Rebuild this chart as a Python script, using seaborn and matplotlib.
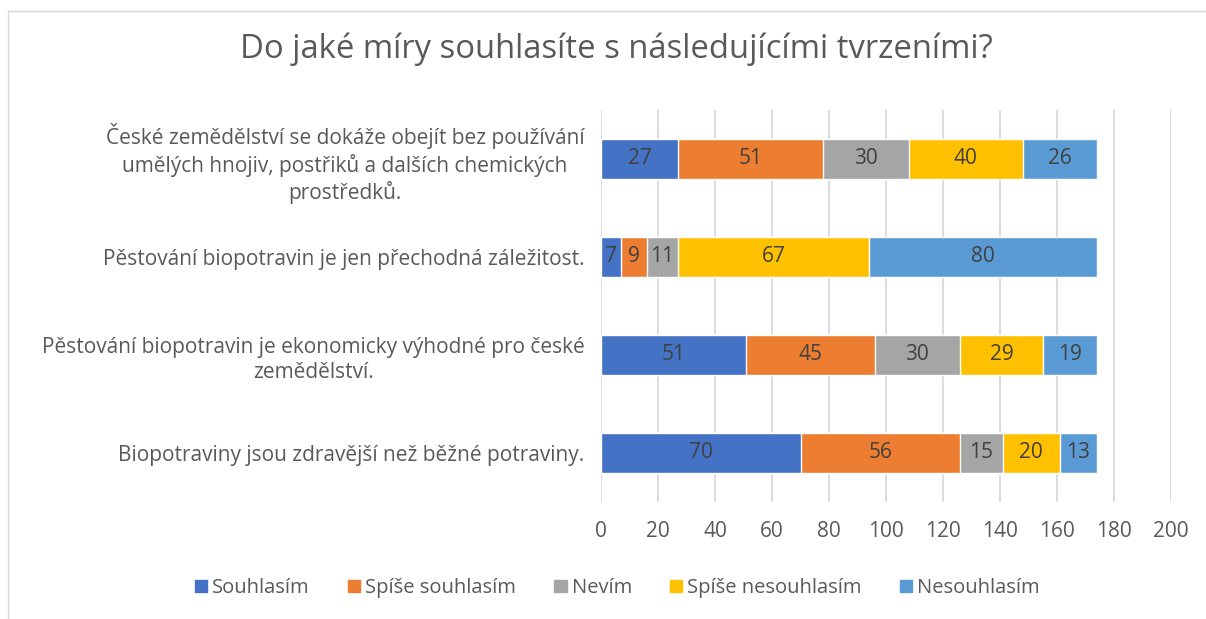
import numpy as np
import pandas as pd
import matplotlib.pyplot as plt
import seaborn as sns

# Data
statements = [
    "České zemědělství se dokáže obejít bez používání\numělých hnojiv, postřiků a dalších chemických\nprostředků.",
    "Pěstování biopotravin je jen přechodná záležitost.",
    "Pěstování biopotravin je ekonomicky výhodné pro české\nzemědělství.",
    "Biopotraviny jsou zdravější než běžné potraviny.",
]
series = ["Souhlasím", "Spíše souhlasím", "Nevím", "Spíše nesouhlasím", "Nesouhlasím"]
souhlasim = [27, 7, 51, 70]
spise_souhlasim = [51, 9, 45, 56]
nevim = [30, 11, 30, 15]
spise_nesouhlasim = [40, 67, 29, 20]
nesouhlasim = [26, 80, 19, 13]
colors = ["#4472C4", "#ED7D31", "#A5A5A5", "#FFC000", "#5B9BD5"]

values = np.array([souhlasim, spise_souhlasim, nevim, spise_nesouhlasim, nesouhlasim])
cum = values.cumsum(axis=0)

sns.set_theme(style="white")
plt.rcParams['font.family'] = ['Open Sans', 'DejaVu Sans']

fig = plt.figure(figsize=(12.06, 6.19), dpi=100)
ax = fig.add_axes([601 / 1206, 1 - 502 / 619, 570 / 1206, 392 / 619])

# stacked bars: draw cumulative totals from the last series backwards
for i in range(len(series) - 1, -1, -1):
    df = pd.DataFrame({"statement": statements, "value": cum[i]})
    sns.barplot(data=df, y="statement", x="value", orient="h", color=colors[i],
                width=0.4, saturation=1, ax=ax, zorder=2)

# data labels in the middle of each segment
for i in range(len(series)):
    for j in range(len(statements)):
        start = cum[i][j] - values[i][j]
        ax.text(start + values[i][j] / 2, j, str(values[i][j]), ha="center", va="center",
                fontsize=15, color="#404040", zorder=3)

ax.set_xlim(0, 200)
ax.set_xticks(range(0, 201, 20))
ax.set_ylim(3.5, -0.5)
ax.set_xlabel("")
ax.set_ylabel("")
ax.grid(axis="x", color="#D9D9D9", linewidth=1.3, zorder=0)
ax.set_axisbelow(True)
for s in ax.spines.values():
    s.set_visible(False)
ax.tick_params(axis="x", labelsize=15, colors="#595959", pad=14, length=0)
ax.tick_params(axis="y", labelsize=15, colors="#595959", pad=12, length=0)
for lab in ax.get_yticklabels():
    lab.set_multialignment("center")
    lab.set_linespacing(1.25)

# title
fig.text(0.511, 0.921, "Do jaké míry souhlasíte s následujícími tvrzeními?", ha="center",
         va="center", fontsize=23.6, color="#595959")

# legend
handles = [plt.Rectangle((0, 0), 1, 1, color=c) for c in colors]
fig.legend(handles, series, loc="center", bbox_to_anchor=(0.512, 0.05), ncol=5,
           frameon=False, fontsize=14.5, handlelength=0.6, handleheight=0.6,
           handletextpad=0.25, columnspacing=1.9, labelcolor="#595959")

# light chart-area border
fig.add_artist(plt.Line2D([8 / 1206, 1], [1 - 11 / 619, 1 - 11 / 619], color="#D9D9D9", lw=1))
fig.add_artist(plt.Line2D([8 / 1206, 8 / 1206], [0, 1 - 11 / 619], color="#D9D9D9", lw=1))

fig.savefig("out.png", dpi=100)
